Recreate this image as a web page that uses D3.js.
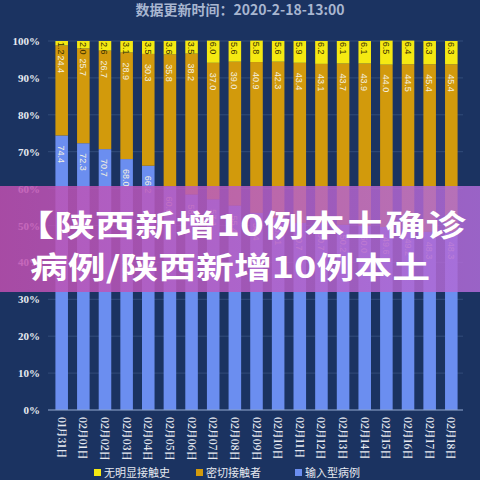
<!DOCTYPE html><html><head><meta charset="utf-8"><script src="https://cdn.jsdelivr.net/npm/d3@7"></script>
<style>body{margin:0;background:#1b3361}</style></head><body><svg id="c" width="480" height="480"></svg><script>
const categories=["01月31日","02月01日","02月02日","02月03日","02月04日","02月05日","02月06日","02月07日","02月08日","02月09日","02月10日","02月11日","02月12日","02月13日","02月14日","02月15日","02月16日","02月17日","02月18日"];
const unknown=[1.2,2.0,2.6,3.1,3.5,3.6,3.5,6.0,5.6,5.8,5.6,5.9,6.2,6.1,6.1,6.5,6.4,6.3,6.3];
const close=[24.4,25.7,26.7,28.9,30.3,35.8,38.2,37.0,39.0,40.9,42.3,43.4,43.1,43.7,43.9,44.0,44.5,45.4,45.4];
const imported=[74.4,72.3,70.7,68.0,66.2,60.6,58.4,57.1,55.4,53.4,52.1,50.7,50.7,50.2,50.0,49.6,49.2,48.3,48.3];
const yTicks=[0,10,20,30,40,50,60,70,80,90,100];
const seriesNames=["无明显接触史","密切接触者","输入型病例"];
const colors=["#f5e912","#d29a0c","#6b8ef0"];
const svg=d3.select("#c");
svg.append("rect").attr("width",480).attr("height",480).attr("fill","#1b3361");
svg.append("text").attr("x",240).attr("y",15).attr("text-anchor","middle").attr("fill","#a8b6d0").attr("font-size",14).attr("font-weight","bold").attr("font-family","Noto Sans CJK SC").text("数据更新时间：2020-2-18-13:00");
const x=d3.scaleBand().domain(categories).range([50,463]).paddingInner(0.42).paddingOuter(0.25);
const y=d3.scaleLinear().domain([0,100]).range([410,41]);
const g=svg.append("g");
yTicks.forEach(t=>{g.append("line").attr("x1",48).attr("x2",463).attr("y1",y(t)).attr("y2",y(t)).attr("stroke","#3c5785").attr("stroke-width",0.7);
g.append("text").attr("x",40).attr("y",y(t)+4).attr("text-anchor","end").attr("fill","#e6e9f0").attr("font-size",11).attr("font-weight","bold").attr("font-family","Liberation Serif").text(t+"%");});
const data=categories.map((c,i)=>({c,imp:imported[i],cl:close[i],un:unknown[i]}));
const stack=d3.stack().keys(["imp","cl","un"])(data);
const keysColor=[colors[2],colors[1],colors[0]];
stack.forEach((s,si)=>{
 s.forEach(d=>{
  const x0=x(d.data.c);
  g.append("rect").attr("x",x0).attr("width",x.bandwidth()).attr("y",y(d[1])).attr("height",y(d[0])-y(d[1])).attr("fill",keysColor[si]);
  const v=d[1]-d[0];const ty=si==2?y(d[1])+1:y(d[1])+10;
  g.append("text").attr("transform",`translate(${x0+x.bandwidth()/2-3.5},${ty}) rotate(90)`).attr("fill",si==2?"#3a3000":"#f4f0e0").attr("font-size",9).attr("font-family","Liberation Sans").text(v.toFixed(1));
 });
});
categories.forEach(c=>{g.append("text").attr("transform",`translate(${x(c)+x.bandwidth()/2-4},417) rotate(90)`).attr("fill","#e6e9f0").attr("font-size",10).attr("font-weight","bold").attr("font-family","Noto Serif CJK SC, Noto Sans CJK SC").text(c);});
g.append("line").attr("x1",48).attr("x2",463).attr("y1",410).attr("y2",410).attr("stroke","#8aa0c8");
const lx=[94,196,295];
seriesNames.forEach((n,i)=>{g.append("rect").attr("x",lx[i]).attr("y",469).attr("width",7).attr("height",7).attr("fill",colors[i]);
g.append("text").attr("x",lx[i]+10).attr("y",477).attr("fill","#e6e9f0").attr("font-size",11).attr("font-family","Noto Sans CJK SC").text(n);});
const defs=svg.append("defs");const gr=defs.append("linearGradient").attr("id","bg");
gr.append("stop").attr("offset","0").attr("stop-color","#c04fb0");gr.append("stop").attr("offset","1").attr("stop-color","#b06bd8");
svg.append("rect").attr("x",0).attr("y",186).attr("width",480).attr("height",106).attr("fill","url(#bg)").attr("opacity",0.85);
svg.append("text").attr("x",14).attr("y",236).attr("fill","#fff").attr("font-size",30).attr("font-weight","bold").attr("font-family","Noto Sans CJK SC").attr("textLength",452).attr("lengthAdjust","spacingAndGlyphs").text("【陕西新增10例本土确诊");
svg.append("text").attr("x",30).attr("y",278).attr("fill","#fff").attr("font-size",30).attr("font-weight","bold").attr("font-family","Noto Sans CJK SC").attr("textLength",400).attr("lengthAdjust","spacingAndGlyphs").text("病例/陕西新增10例本土");
</script></body></html>
